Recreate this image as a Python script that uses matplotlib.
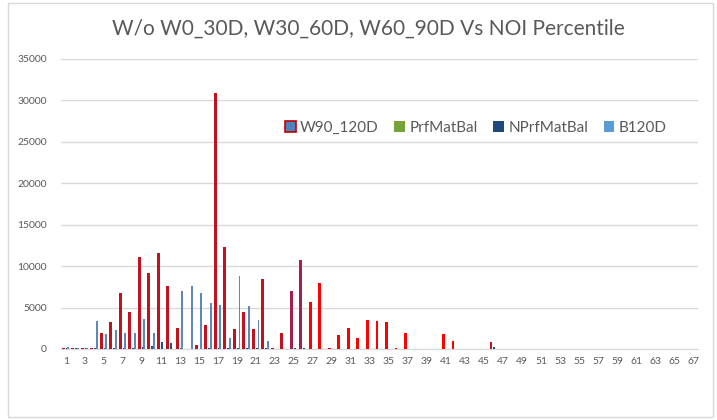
import matplotlib
matplotlib.use("Agg")
import matplotlib.pyplot as plt
from matplotlib.patches import Patch, Rectangle
import numpy as np

categories = list(range(1, 68))

w90_120d = [150, 100, 100, 100, 1950, 3250, 6700, 4500, 11150, 9150,
            11550, 7550, 2500, 0, 450, 2950, 30900, 12300, 2400, 4500,
            2400, 8400, 100, 1900, 6950, 10800, 5700, 7950, 80, 1700,
            2500, 1300, 3550, 3400, 3250, 80, 1950, 60, 60, 60,
            1850, 950, 60, 60, 60, 800, 60, 60, 60, 60,
            60, 60, 60, 60, 60, 60, 60, 60, 60, 60,
            60, 60, 60, 60, 60, 60, 60]
prfmatbal = [60, 40, 40, 40, 60, 60, 60, 60, 60, 60,
             60, 60, 60, 0, 0, 60, 60, 60, 60, 60,
             60, 60, 40, 40, 60, 60, 40, 40, 40, 40,
             40, 40, 40, 40, 40, 40, 40, 40, 40, 40,
             40, 40, 40, 40, 40, 40, 40, 40, 40, 40,
             40, 40, 40, 40, 40, 40, 40, 40, 40, 40,
             40, 40, 40, 40, 40, 40, 40]
nprfmatbal = [100, 80, 80, 80, 150, 150, 150, 150, 200, 350,
              900, 750, 100, 0, 0, 100, 100, 100, 100, 100,
              100, 100, 50, 50, 100, 100, 50, 50, 50, 50,
              50, 50, 50, 50, 50, 50, 50, 50, 50, 50,
              50, 50, 50, 50, 50, 300, 50, 50, 50, 50,
              50, 50, 50, 50, 50, 50, 50, 50, 50, 50,
              50, 50, 50, 50, 50, 50, 50]
b120d = [250, 150, 150, 3400, 1800, 2250, 1900, 1900, 3650, 1900,
         0, 0, 6950, 7550, 6750, 5550, 5350, 1300, 8800, 5200,
         3450, 950, 50, 0, 0, 0, 0, 0, 50, 0,
         0, 0, 0, 0, 0, 50, 0, 50, 50, 50,
         0, 0, 50, 50, 50, 0, 50, 50, 50, 50,
         50, 50, 50, 50, 50, 50, 50, 50, 50, 50,
         50, 50, 50, 50, 50, 50, 50]

series_names = ["W90_120D", "PrfMatBal", "NPrfMatBal", "B120D"]
yticks = [0, 5000, 10000, 15000, 20000, 25000, 30000, 35000]
xtick_labels = [str(c) for c in categories[::2]]

title = "W/o W0_30D, W30_60D, W60_90D Vs NOI Percentile"

# styles
plt.rcParams['font.family'] = ['Lato', 'DejaVu Sans']
col_red_dark = '#c3121f'
col_red = '#ff0000'
col_purple = '#a3204c'
col_green = '#77a23b'
col_dblue = '#24507e'
col_lblue = '#5f87ba'
text_col = '#595959'

red_colors = []
for c in categories:
    if c in (25, 26):
        red_colors.append(col_purple)
    elif 27 <= c <= 45:
        red_colors.append(col_red)
    else:
        red_colors.append(col_red_dark)

fig = plt.figure(figsize=(7.17, 4.20), dpi=100)
fig.patch.set_facecolor('white')
fig.patches.append(Rectangle((8/717, 3/420), 705/717, 414/420, transform=fig.transFigure,
                             fill=False, edgecolor='#d9d9d9', linewidth=1.0))
ax = fig.add_axes([61/717, 1 - 349/420, 637/717, 290/420])

x = np.array(categories, dtype=float)
step = 0.18
ax.bar(x - 1.5*step, w90_120d, 0.3, color=red_colors, linewidth=0, zorder=3)
ax.bar(x - 0.5*step, prfmatbal, 0.2, color=col_green, linewidth=0, zorder=3)
ax.bar(x + 0.5*step, nprfmatbal, 0.22, color=col_dblue, linewidth=0, zorder=3)
ax.bar(x + 1.5*step, b120d, 0.2, color=col_lblue, linewidth=0, zorder=3)

ax.set_xlim(0.5, 67.5)
ax.set_ylim(0, 35000)
ax.set_yticks(yticks)
ax.set_yticklabels([str(v) for v in yticks])
ax.set_xticks(categories[::2])
ax.set_xticklabels(xtick_labels)
ax.tick_params(axis='both', length=0, labelsize=7.5, colors=text_col)
ax.tick_params(axis='y', pad=10)
ax.tick_params(axis='x', pad=6)
ax.grid(axis='y', color='#d9d9d9', linewidth=1.0, zorder=0)
for s in ['top', 'right', 'left']:
    ax.spines[s].set_visible(False)
ax.spines['bottom'].set_color('#d9d9d9')

fig.text(368/717, 1 - 29/420, title, ha='center', va='center', fontsize=15, color=text_col)

handles = [Patch(facecolor='#4f81bd', edgecolor='#c00000', linewidth=1.2),
           Patch(facecolor=col_green),
           Patch(facecolor='#1f497d'),
           Patch(facecolor='#5b9bd5')]
leg = ax.legend(handles, series_names, loc='center left', bbox_to_anchor=(0.33, 0.762),
                ncol=4, frameon=False, fontsize=11, handlelength=0.7, handleheight=0.7,
                handletextpad=0.3, columnspacing=1.0, labelcolor=text_col)

fig.savefig('out.png', dpi=100, facecolor='white')
